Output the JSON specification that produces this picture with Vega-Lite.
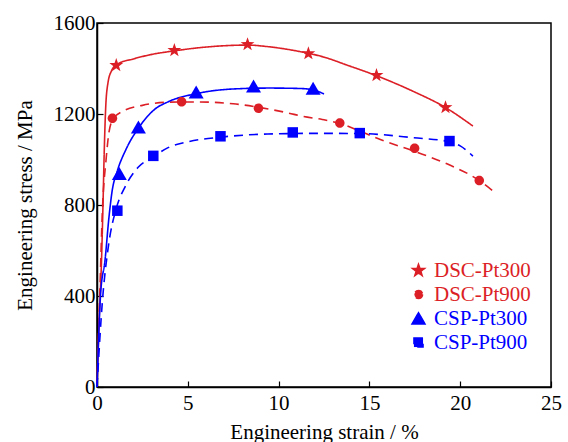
{
  "$schema": "https://vega.github.io/schema/vega-lite/v6.json",
  "width": 454,
  "height": 364,
  "autosize": "none",
  "padding": {"left": 97, "top": 23, "right": 17, "bottom": 55},
  "background": "white",
  "config": {
    "font": "Liberation Serif",
    "style": {
      "guide-label": {"font": "Liberation Serif"},
      "guide-title": {"font": "Liberation Serif"}
    },
    "view": {"stroke": "#000", "strokeWidth": 1.5},
    "axis": {
      "grid": false,
      "domainColor": "#000",
      "domainWidth": 1.5,
      "tickColor": "#000",
      "tickWidth": 1.2,
      "tickSize": -6,
      "labelColor": "#000",
      "titleColor": "#000",
      "labelFont": "Liberation Serif",
      "titleFont": "Liberation Serif",
      "labelFontSize": 21,
      "titleFontSize": 21,
      "titleFontWeight": "normal",
      "labelFlush": false
    },
    "legend": {
      "labelFont": "Liberation Serif",
      "labelFontWeight": "normal"
    }
  },
  "datasets": {
    "curves": [
      {"series": "DSC-Pt300", "strain": 0, "stress": 0},
      {"series": "DSC-Pt300", "strain": 0.12, "stress": 300},
      {"series": "DSC-Pt300", "strain": 0.25, "stress": 560},
      {"series": "DSC-Pt300", "strain": 0.33, "stress": 800},
      {"series": "DSC-Pt300", "strain": 0.4, "stress": 1040},
      {"series": "DSC-Pt300", "strain": 0.48, "stress": 1230},
      {"series": "DSC-Pt300", "strain": 0.6, "stress": 1335},
      {"series": "DSC-Pt300", "strain": 0.8, "stress": 1390},
      {"series": "DSC-Pt300", "strain": 1.1, "stress": 1418},
      {"series": "DSC-Pt300", "strain": 2, "stress": 1442},
      {"series": "DSC-Pt300", "strain": 2.9, "stress": 1460},
      {"series": "DSC-Pt300", "strain": 4.3, "stress": 1478},
      {"series": "DSC-Pt300", "strain": 5.7, "stress": 1492},
      {"series": "DSC-Pt300", "strain": 7, "stress": 1500},
      {"series": "DSC-Pt300", "strain": 8.3, "stress": 1503},
      {"series": "DSC-Pt300", "strain": 9.3, "stress": 1497},
      {"series": "DSC-Pt300", "strain": 10.1, "stress": 1489},
      {"series": "DSC-Pt300", "strain": 11.2, "stress": 1474},
      {"series": "DSC-Pt300", "strain": 12.5, "stress": 1450},
      {"series": "DSC-Pt300", "strain": 13.8, "stress": 1414},
      {"series": "DSC-Pt300", "strain": 15.4, "stress": 1368},
      {"series": "DSC-Pt300", "strain": 17.4, "stress": 1300},
      {"series": "DSC-Pt300", "strain": 19.2, "stress": 1228},
      {"series": "DSC-Pt300", "strain": 20.7, "stress": 1147},
      {"series": "DSC-Pt900", "strain": 0, "stress": 0},
      {"series": "DSC-Pt900", "strain": 0.15, "stress": 400},
      {"series": "DSC-Pt900", "strain": 0.3, "stress": 780},
      {"series": "DSC-Pt900", "strain": 0.5, "stress": 1000},
      {"series": "DSC-Pt900", "strain": 0.66, "stress": 1120},
      {"series": "DSC-Pt900", "strain": 0.9, "stress": 1180},
      {"series": "DSC-Pt900", "strain": 1.5, "stress": 1215},
      {"series": "DSC-Pt900", "strain": 2.5, "stress": 1238},
      {"series": "DSC-Pt900", "strain": 4, "stress": 1252},
      {"series": "DSC-Pt900", "strain": 5.5, "stress": 1253},
      {"series": "DSC-Pt900", "strain": 7.5, "stress": 1245},
      {"series": "DSC-Pt900", "strain": 9, "stress": 1228},
      {"series": "DSC-Pt900", "strain": 10.5, "stress": 1205},
      {"series": "DSC-Pt900", "strain": 11.3, "stress": 1190},
      {"series": "DSC-Pt900", "strain": 12.4, "stress": 1176},
      {"series": "DSC-Pt900", "strain": 13.4, "stress": 1158},
      {"series": "DSC-Pt900", "strain": 14.5, "stress": 1124},
      {"series": "DSC-Pt900", "strain": 15.6, "stress": 1088},
      {"series": "DSC-Pt900", "strain": 17.5, "stress": 1035},
      {"series": "DSC-Pt900", "strain": 19.3, "stress": 980},
      {"series": "DSC-Pt900", "strain": 21, "stress": 910},
      {"series": "DSC-Pt900", "strain": 21.8, "stress": 862},
      {"series": "CSP-Pt300", "strain": 0, "stress": 0},
      {"series": "CSP-Pt300", "strain": 0.2, "stress": 411},
      {"series": "CSP-Pt300", "strain": 0.44, "stress": 556},
      {"series": "CSP-Pt300", "strain": 0.66, "stress": 747},
      {"series": "CSP-Pt300", "strain": 0.84, "stress": 865},
      {"series": "CSP-Pt300", "strain": 1.1, "stress": 945},
      {"series": "CSP-Pt300", "strain": 1.6, "stress": 1045},
      {"series": "CSP-Pt300", "strain": 2.3, "stress": 1140},
      {"series": "CSP-Pt300", "strain": 3.2, "stress": 1222},
      {"series": "CSP-Pt300", "strain": 3.9, "stress": 1253},
      {"series": "CSP-Pt300", "strain": 5.5, "stress": 1290},
      {"series": "CSP-Pt300", "strain": 7.5, "stress": 1310},
      {"series": "CSP-Pt300", "strain": 9.5, "stress": 1314},
      {"series": "CSP-Pt300", "strain": 11.2, "stress": 1312},
      {"series": "CSP-Pt300", "strain": 11.9, "stress": 1306},
      {"series": "CSP-Pt300", "strain": 12.5, "stress": 1288},
      {"series": "CSP-Pt900", "strain": 0, "stress": 0},
      {"series": "CSP-Pt900", "strain": 0.3, "stress": 380},
      {"series": "CSP-Pt900", "strain": 0.62, "stress": 615},
      {"series": "CSP-Pt900", "strain": 1.08, "stress": 790},
      {"series": "CSP-Pt900", "strain": 1.54, "stress": 879},
      {"series": "CSP-Pt900", "strain": 2.28, "stress": 967},
      {"series": "CSP-Pt900", "strain": 3.1, "stress": 1012},
      {"series": "CSP-Pt900", "strain": 3.86, "stress": 1050},
      {"series": "CSP-Pt900", "strain": 4.96, "stress": 1077},
      {"series": "CSP-Pt900", "strain": 6.8, "stress": 1098},
      {"series": "CSP-Pt900", "strain": 9.4, "stress": 1112},
      {"series": "CSP-Pt900", "strain": 12.3, "stress": 1115},
      {"series": "CSP-Pt900", "strain": 14.5, "stress": 1114},
      {"series": "CSP-Pt900", "strain": 17.4, "stress": 1096},
      {"series": "CSP-Pt900", "strain": 19.4, "stress": 1078},
      {"series": "CSP-Pt900", "strain": 20, "stress": 1060},
      {"series": "CSP-Pt900", "strain": 20.7, "stress": 1015}
    ],
    "points": [
      {"series": "DSC-Pt300", "strain": 1.06, "stress": 1414},
      {"series": "DSC-Pt300", "strain": 4.26, "stress": 1480},
      {"series": "DSC-Pt300", "strain": 8.29, "stress": 1506},
      {"series": "DSC-Pt300", "strain": 11.64, "stress": 1466},
      {"series": "DSC-Pt300", "strain": 15.39, "stress": 1370},
      {"series": "DSC-Pt300", "strain": 19.19, "stress": 1229},
      {"series": "DSC-Pt900", "strain": 0.85, "stress": 1181},
      {"series": "DSC-Pt900", "strain": 4.66, "stress": 1254},
      {"series": "DSC-Pt900", "strain": 8.89, "stress": 1225},
      {"series": "DSC-Pt900", "strain": 13.37, "stress": 1160},
      {"series": "DSC-Pt900", "strain": 17.49, "stress": 1050},
      {"series": "DSC-Pt900", "strain": 21.05, "stress": 908},
      {"series": "CSP-Pt300", "strain": 1.23, "stress": 937},
      {"series": "CSP-Pt300", "strain": 2.28, "stress": 1142},
      {"series": "CSP-Pt300", "strain": 5.46, "stress": 1296},
      {"series": "CSP-Pt300", "strain": 8.62, "stress": 1322},
      {"series": "CSP-Pt300", "strain": 11.9, "stress": 1312},
      {"series": "CSP-Pt900", "strain": 1.12, "stress": 775},
      {"series": "CSP-Pt900", "strain": 3.1, "stress": 1016},
      {"series": "CSP-Pt900", "strain": 6.8, "stress": 1102},
      {"series": "CSP-Pt900", "strain": 10.78, "stress": 1119},
      {"series": "CSP-Pt900", "strain": 14.47, "stress": 1116},
      {"series": "CSP-Pt900", "strain": 19.41, "stress": 1081}
    ]
  },
  "encoding": {
    "x": {
      "field": "strain",
      "type": "quantitative",
      "scale": {"domain": [0, 25], "nice": false, "zero": false},
      "axis": {
        "title": "Engineering strain / %",
        "values": [0, 5, 10, 15, 20, 25],
        "format": "d",
        "labelFont": "Liberation Serif",
        "labelFlush": false,
        "labelPadding": 11,
        "titleY": 51,
        "titleBaseline": "alphabetic"
      }
    },
    "y": {
      "field": "stress",
      "type": "quantitative",
      "scale": {"domain": [0, 1600], "nice": false},
      "axis": {
        "title": "Engineering stress / MPa",
        "values": [0, 400, 800, 1200, 1600],
        "format": "d",
        "labelFont": "Liberation Serif",
        "labelFlush": false,
        "labelPadding": 8,
        "titleX": -66,
        "titleY": 182,
        "titleAngle": -90,
        "titleAlign": "center",
        "titleBaseline": "alphabetic"
      }
    },
    "color": {
      "field": "series",
      "type": "nominal",
      "scale": {
        "domain": ["DSC-Pt300", "DSC-Pt900", "CSP-Pt300", "CSP-Pt900"],
        "range": ["#dc1f26", "#dc1f26", "#0000ff", "#0000ff"]
      },
      "legend": {
        "title": null,
        "orient": "none",
        "legendX": 311,
        "legendY": 237,
        "padding": 0,
        "labelFont": "Liberation Serif",
        "labelFontWeight": "normal",
        "labelFontSize": 21,
        "labelOffset": 5,
        "rowPadding": 2,
        "symbolSize": 75,
        "labelColor": {"expr": "indexof(datum.label, 'DSC') === 0 ? '#dc1f26' : '#0000ff'"}
      }
    }
  },
  "layer": [
    {
      "data": {"name": "curves"},
      "mark": {"type": "line", "interpolate": "monotone", "strokeWidth": 1.6},
      "encoding": {
        "strokeDash": {
          "field": "series",
          "type": "nominal",
          "scale": {
            "domain": ["DSC-Pt300", "DSC-Pt900", "CSP-Pt300", "CSP-Pt900"],
            "range": [[1, 0], [9, 6], [1, 0], [9, 6]]
          },
          "legend": null
        }
      }
    },
    {
      "data": {"name": "points"},
      "mark": {"type": "point", "filled": true, "opacity": 1, "strokeWidth": 0, "size": 100},
      "encoding": {
        "shape": {
          "field": "series",
          "type": "nominal",
          "scale": {
            "domain": ["DSC-Pt300", "DSC-Pt900", "CSP-Pt300", "CSP-Pt900"],
            "range": [
              "M0,-1.45L0.34,-0.47L1.38,-0.45L0.55,0.18L0.85,1.17L0,0.58L-0.85,1.17L-0.55,0.18L-1.38,-0.45L-0.34,-0.47Z",
              "M0.95,0A0.95,0.95 0 1,1 -0.95,0A0.95,0.95 0 1,1 0.95,0Z",
              "M0,-1.35L1.5,1.25L-1.5,1.25Z",
              "M-1.05,-1.05L1.05,-1.05L1.05,1.05L-1.05,1.05Z"
            ]
          }
        }
      }
    }
  ]
}
